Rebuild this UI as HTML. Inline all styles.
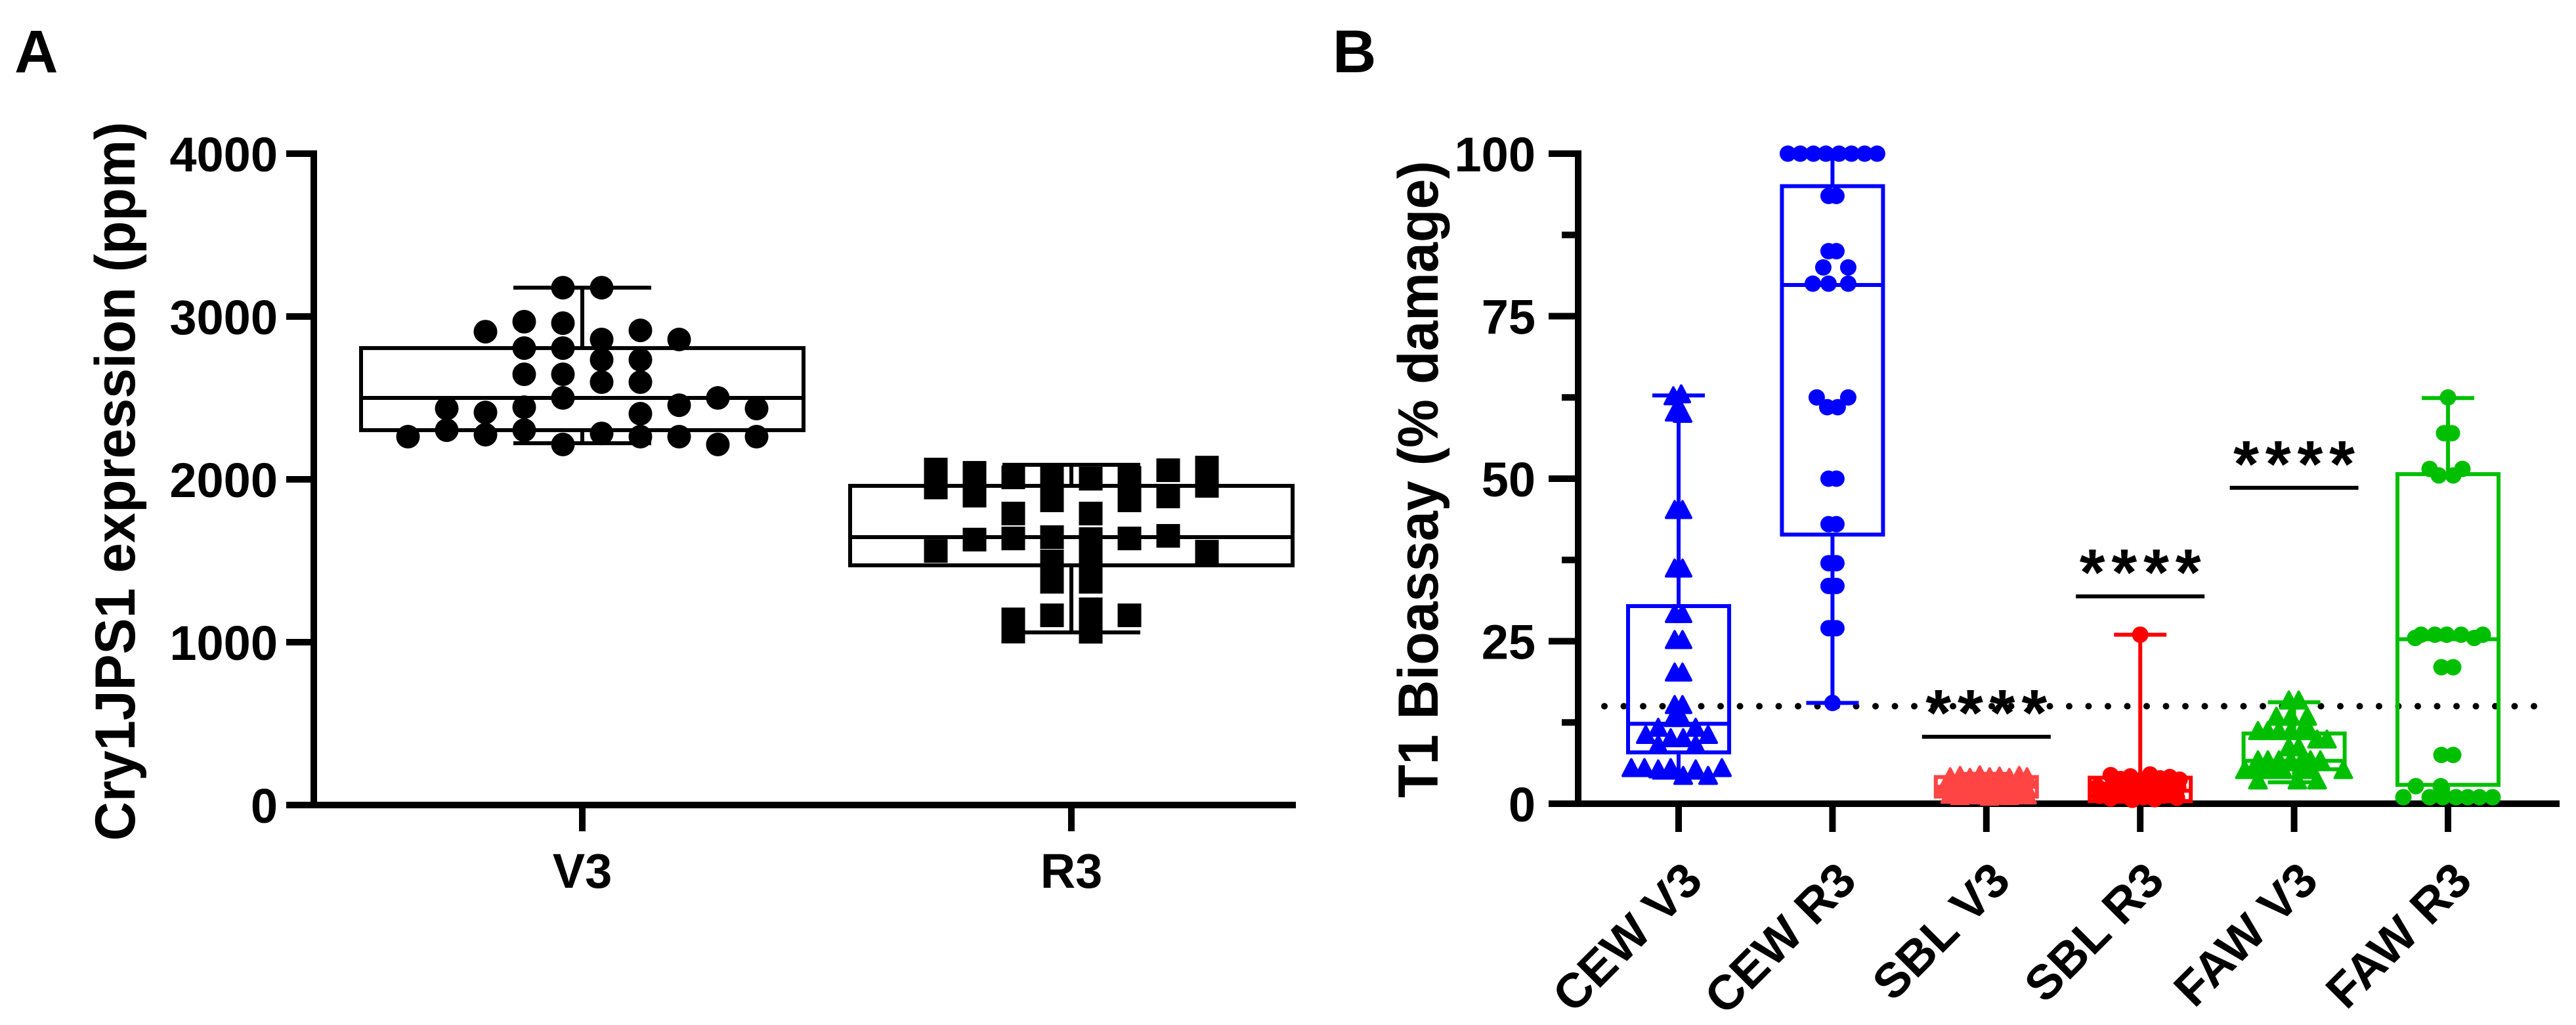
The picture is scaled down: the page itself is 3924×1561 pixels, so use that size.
<!DOCTYPE html>
<html><head><meta charset="utf-8"><style>
html,body{margin:0;padding:0;background:#fff;}
svg{display:block;font-family:"Liberation Sans",Arial,sans-serif;font-weight:bold;}
</style></head><body>
<svg id="fig" width="3924" height="1561" viewBox="0 0 3924 1561" xmlns="http://www.w3.org/2000/svg">
<text x="22" y="110" font-size="92">A</text>
<text x="2030" y="110" font-size="92">B</text>
<text transform="translate(205,733) rotate(-90)" text-anchor="middle" font-size="86" textLength="1095" lengthAdjust="spacingAndGlyphs">Cry1JPS1 expression (ppm)</text>
<text transform="translate(2190,730) rotate(-90)" text-anchor="middle" font-size="86" textLength="970" lengthAdjust="spacingAndGlyphs">T1 Bioassay (% damage)</text>
<g id="ga"></g>
<g id="gb"></g>
</svg>
<script>
// ---------- Panel A data ----------
const catsA = ["V3", "R3"];
const ticksA = [0, 1000, 2000, 3000, 4000];
const boxA_q1 = [2302, 1472];
const boxA_med = [2500, 1645];
const boxA_q3 = [2806, 1960];
const boxA_min = [2222, 1060];
const boxA_max = [3177, 2089];
const v3Vals = [3177,3177,2907,2968,2959,2915,2859,2859,2806,2806,2734,2734,2645,2645,2597,2597,2500,2500,2435,2411,2443,2455,2435,2403,2262,2302,2274,2302,2282,2262,2262,2214,2262,2214];
const v3Cols = [-0.5,0.5,-2.5,-1.5,-0.5,1.5,2.5,0.5,-1.5,-0.5,0.5,1.5,-1.5,-0.5,0.5,1.5,3.5,-0.5,-3.5,-2.5,-1.5,2.5,4.5,1.5,-4.5,-3.5,-2.5,-1.5,0.5,1.5,2.5,3.5,4.5,-0.5];
const r3Vals = [2060,1950,1560, 2040,1900,1630, 2012,1790,1637,1140,1065, 2012,1871,1645,1496,1371,1165, 2004,1790,1633,1504,1371,1202,1064, 2008,1871,1637,1165, 2056,1895,1653, 2072,1960,1556];
const r3Cols = [-3.5,-3.5,-3.5, -2.5,-2.5,-2.5, -1.5,-1.5,-1.5,-1.5,-1.5, -0.5,-0.5,-0.5,-0.5,-0.5,-0.5, 0.5,0.5,0.5,0.5,0.5,0.5,0.5, 1.5,1.5,1.5,1.5, 2.5,2.5,2.5, 3.5,3.5,3.5];

// ---------- Panel B data ----------
const catsB = ["CEW V3","CEW R3","SBL V3","SBL R3","FAW V3","FAW R3"];
const ticksB = [0, 25, 50, 75, 100];
const minorB = [12.5, 37.5, 62.5, 87.5];
const boxB_q1 = [7.9, 41.4, 1.1, 0.4, 5.3, 2.9];
const boxB_med = [12.3, 79.8, 2.6, 2.0, 6.6, 25.3];
const boxB_q3 = [30.4, 95.0, 4.1, 4.0, 10.8, 50.7];
const boxB_min = [4.0, 15.5, 0.8, 0.3, 3.3, 0.6];
const boxB_max = [62.8, 100, 4.6, 26, 15.6, 62.4];
const threshold = 15;
const sigGroups = [2, 3, 4];
const sigLineVals = [10.3, 31.9, 48.6];
const sigLabels = ["****","****","****"];
const cewV3Vals = [62.5,62.8,60,59.8,45,45,36,36,29,29,25,25,20,20,15,15,13,13,11.5,11.5,10.4,10.4,9.9,9.9,8.9,8.9,5.3,5.3,5.1,5.3,5.1,5.3,4.1,4.1];
const cewV3Off = [-8,4,-6,6,-6,6,-6,6,-6,6,-6,6,-6,6,-6,6,-8,4,-31,26,-50,45,-12,7,-31,26,-72,-52,-31,-12,26,66,7,45];
const cewR3Vals = [100,100,100,100,100,100,100,100,93.5,93.5,85,85,82.5,82.5,80,80,80,62.5,62.5,61,61,50,50,43,43,37,37,33.5,33.5,27,27,15.5];
const cewR3Off = [-68,-49,-29,-10,10,29,49,68,-6,6,-6,6,-14,24,-30,-6,24,-24,24,-8,8,-6,6,-6,6,-6,6,-6,6,-6,6,0];
const sblV3Vals = [3.9,4.1,3.8,4.2,3.9,4.0,3.8,4.1,3.9, 2.6,2.4,2.7,2.5,2.3,2.6,2.5,2.7,2.4, 1.2,1.0,1.3,1.1,0.9,1.2,1.0,1.3,1.1];
const sblV3Off = [-55,-40,-25,-10,5,20,35,50,62, -62,-47,-32,-17,0,15,30,45,60, -55,-40,-25,-10,5,20,35,50,62];
const sblR3Vals = [26, 4.4,3.8,4.2,3.6,4.5,3.9,4.1,3.7, 2.6,2.2,2.8,2.4,2.0,2.7,2.3,2.9,2.5, 1.2,0.8,1.4,0.6,1.0,0.7,1.3,0.9];
const sblR3Off = [0, -45,-30,-15,0,15,30,45,60, -65,-50,-35,-20,-5,10,25,40,58, -62,-45,-28,-12,5,22,40,56];
const fawV3Vals = [15.7,15.7,13.2,13.2,13.2,11,11,11,11,11,11,9.7,9.7,8.5,8.5,6.5,6.5,6.5,6.5,6.5,6.5,6.5,5,5,5,5,5,5,5,3.4,3.4,3.4];
const fawV3Off = [-8,7,-27,-5,20,-55,-40,-23,-5,12,23,35,50,-8,7,-55,-40,-23,-5,12,25,40,-75,-55,-35,-17,10,25,75,-55,5,35];
const fawR3Vals = [62.5,57,57,51.5,51.5,50.5,50.5,26,26,26,26,26,25.5,25.5,21,21,7.5,7.5,2.7,2.7,1,1,1,1,1,1,1];
const fawR3Off = [0,-6,6,-28,22,-14,8,-41,-20,-2,20,53,-50,40,-10,8,-10,8,-49,-11,-68,-28,-8,12,30,48,68];

const NS = "http://www.w3.org/2000/svg";
function mk(parent, tag, attrs) {
  const e = document.createElementNS(NS, tag);
  for (const k in attrs) e.setAttribute(k, attrs[k]);
  parent.appendChild(e);
  return e;
}
const ga = document.getElementById("ga");
const gb = document.getElementById("gb");

// ---------- Panel A ----------
const yA = v => 1226 - v * (992 / 4000);
const xA = i => [887, 1632][i];
const colStepA = 59;
const boxHalfA = 337;

let el = mk(ga, "line", {x1: 478, y1: 229, x2: 478, y2: 1231, stroke: "#000", "stroke-width": 10});


el = mk(ga, "line", {x1: 436, y1: 1226, x2: 1974, y2: 1226, stroke: "#000", "stroke-width": 10});


ticksA.forEach(t => {
  let tk = mk(ga, "line", {x1: 436, y1: yA(t), x2: 478, y2: yA(t), stroke: "#000", "stroke-width": 10});
  
  
  let lb = mk(ga, "text", {x: 423, y: yA(t) + 27, "text-anchor": "end", "font-size": 74});
  lb.textContent = t;
  
  
});
catsA.forEach((c, i) => {
  let tk = mk(ga, "line", {x1: xA(i), y1: 1226, x2: xA(i), y2: 1266, stroke: "#000", "stroke-width": 10});
  
  
  let lb = mk(ga, "text", {x: xA(i), y: 1352, "text-anchor": "middle", "font-size": 74});
  lb.textContent = c;
  
  
});
function boxPlot(g, cx, half, capHalf, q1, med, q3, mn, mx, yf, color, sw) {
  const bx = mk(g, "g", {});
  
  
  mk(bx, "line", {x1: cx, y1: yf(mx), x2: cx, y2: yf(q3), stroke: color, "stroke-width": sw});
  mk(bx, "line", {x1: cx, y1: yf(q1), x2: cx, y2: yf(mn), stroke: color, "stroke-width": sw});
  mk(bx, "line", {x1: cx - capHalf, y1: yf(mx), x2: cx + capHalf, y2: yf(mx), stroke: color, "stroke-width": sw});
  mk(bx, "line", {x1: cx - capHalf, y1: yf(mn), x2: cx + capHalf, y2: yf(mn), stroke: color, "stroke-width": sw});
  mk(bx, "rect", {x: cx - half, y: yf(q3), width: 2 * half, height: yf(q1) - yf(q3), fill: "none", stroke: color, "stroke-width": sw});
  mk(bx, "line", {x1: cx - half, y1: yf(med), x2: cx + half, y2: yf(med), stroke: color, "stroke-width": sw});
}
v3Vals.forEach((v, k) => {
  let c = mk(ga, "circle", {cx: xA(0) + v3Cols[k] * colStepA, cy: yA(v), r: 18, fill: "#000"});
  
  
});
r3Vals.forEach((v, k) => {
  let r = mk(ga, "rect", {x: xA(1) + r3Cols[k] * colStepA - 18, y: yA(v) - 18, width: 36, height: 36, fill: "#000"});
  
  
});
catsA.forEach((c, i) => {
  boxPlot(ga, xA(i), boxHalfA, 105, boxA_q1[i], boxA_med[i], boxA_q3[i], boxA_min[i], boxA_max[i], yA, "#000", 6);
});

// ---------- Panel B ----------
const yB = v => 1224 - v * 9.9;
const xB = i => 2557 + i * 234.4;
const colors = ["#0000ff", "#0000ff", "#ff4444", "#ff0000", "#00bf00", "#00bf00"];
const shapes = ["tri", "circ", "tri", "circ", "tri", "circ"];
const groupVals = [cewV3Vals, cewR3Vals, sblV3Vals, sblR3Vals, fawV3Vals, fawR3Vals];
const groupOff = [cewV3Off, cewR3Off, sblV3Off, sblR3Off, fawV3Off, fawR3Off];

el = mk(gb, "line", {x1: 2404, y1: 229, x2: 2404, y2: 1229, stroke: "#000", "stroke-width": 10});


el = mk(gb, "line", {x1: 2359, y1: 1224, x2: 3899, y2: 1224, stroke: "#000", "stroke-width": 10});


ticksB.forEach(t => {
  let tk = mk(gb, "line", {x1: 2359, y1: yB(t), x2: 2404, y2: yB(t), stroke: "#000", "stroke-width": 10});
  
  
  let lb = mk(gb, "text", {x: 2339, y: yB(t) + 27, "text-anchor": "end", "font-size": 74});
  lb.textContent = t;
  
  
});
minorB.forEach(t => {
  let tk = mk(gb, "line", {x1: 2379, y1: yB(t), x2: 2404, y2: yB(t), stroke: "#000", "stroke-width": 10});
  
  
});
catsB.forEach((c, i) => {
  let tk = mk(gb, "line", {x1: xB(i), y1: 1224, x2: xB(i), y2: 1267, stroke: "#000", "stroke-width": 10});
  
  
  let lb = mk(gb, "text", {transform: "translate(" + (xB(i) + 40) + ",1345) rotate(-45)", "text-anchor": "end", "font-size": 74});
  lb.textContent = c;
  
  
});
// threshold dotted line
el = mk(gb, "line", {x1: 2444, y1: yB(threshold), x2: 3880, y2: yB(threshold), stroke: "#000", "stroke-width": 10, "stroke-linecap": "round", "stroke-dasharray": "0 29.5"});



groupVals.forEach((vals, i) => {
  vals.forEach((v, k) => {
    const cx = xB(i) + groupOff[i][k], cy = yB(v);
    let m;
    if (shapes[i] === "circ") {
      m = mk(gb, "circle", {cx: cx, cy: cy, r: 12.5, fill: colors[i]});
    } else {
      m = mk(gb, "path", {d: "M" + cx + "," + (cy - 15) + " L" + (cx + 13) + "," + (cy + 10) + " L" + (cx - 13) + "," + (cy + 10) + " Z", fill: colors[i], stroke: colors[i], "stroke-width": 4, "stroke-linejoin": "round"});
    }
    
    
  });
});
catsB.forEach((c, i) => {
  boxPlot(gb, xB(i), 77, 40, boxB_q1[i], boxB_med[i], boxB_q3[i], boxB_min[i], boxB_max[i], yB, colors[i], 6);
});
sigGroups.forEach((gi, k) => {
  const cx = xB(gi);
  const ly = yB(sigLineVals[k]);
  let ln = mk(gb, "line", {x1: cx - 98, y1: ly, x2: cx + 98, y2: ly, stroke: "#000", "stroke-width": 6});
  
  
  let t = mk(gb, "text", {x: cx, y: ly - 2, "text-anchor": "middle", "font-size": 100, textLength: 185, lengthAdjust: "spacing"});
  t.textContent = sigLabels[k];
  
  
});
</script>
</body></html>
